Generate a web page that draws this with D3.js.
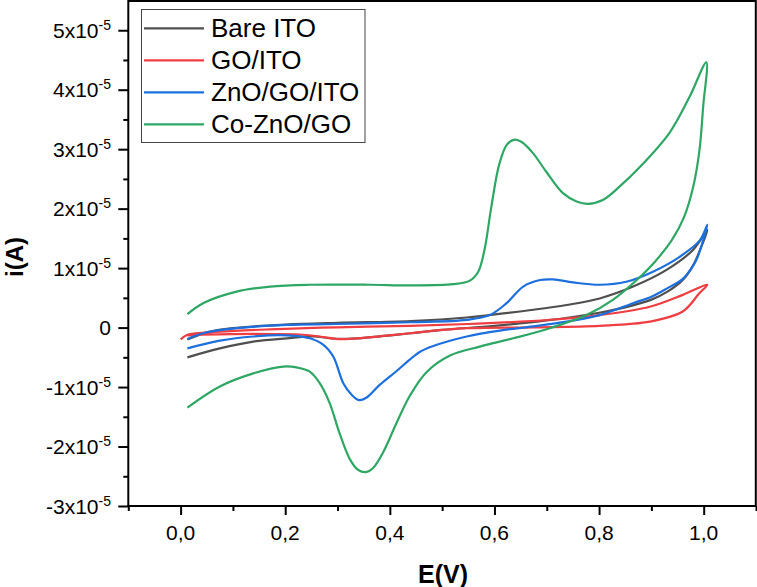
<!DOCTYPE html>
<html>
<head>
<meta charset="utf-8">
<script src="https://cdn.jsdelivr.net/npm/d3@7"></script>
<style>
  html, body { margin: 0; padding: 0; background: #fff; }
  svg { display: block; font-family: "Liberation Sans", Arial, sans-serif; }
</style>
</head>
<body>
<svg id="chart" width="757" height="587"></svg>
<script>
// ---------- data (E in V, i in units of 1e-5 A) ----------
const seriesNames = ["Bare ITO", "GO/ITO", "ZnO/GO/ITO", "Co-ZnO/GO"];

const bareITO = [
  [0.013,-0.20],[0.05,-0.08],[0.1,-0.01],[0.2,0.05],[0.3,0.08],[0.44,0.11],[0.547,0.17],
  [0.674,0.30],[0.738,0.38],[0.801,0.49],[0.865,0.69],[0.929,0.97],[0.98,1.31],[1.007,1.64],
  [0.995,1.35],[0.98,1.05],[0.96,0.80],[0.93,0.60],[0.90,0.47],[0.85,0.34],[0.80,0.25],
  [0.70,0.12],[0.60,0.03],[0.50,-0.04],[0.44,-0.095],[0.39,-0.14],[0.34,-0.18],[0.30,-0.19],
  [0.253,-0.15],[0.203,-0.18],[0.139,-0.235],[0.075,-0.35],[0.013,-0.50]
];

const goITO = [
  [0.0,-0.20],[0.013,-0.12],[0.075,-0.07],[0.171,-0.03],[0.30,0.005],[0.438,0.03],[0.55,0.06],
  [0.65,0.10],[0.72,0.14],[0.801,0.21],[0.897,0.35],[0.96,0.55],[1.007,0.72],
  [0.992,0.58],[0.96,0.27],[0.897,0.10],[0.801,0.03],[0.674,0.005],[0.547,-0.01],[0.50,-0.04],
  [0.438,-0.095],[0.387,-0.14],[0.336,-0.18],[0.304,-0.195],[0.266,-0.15],[0.234,-0.12],
  [0.139,-0.105],[0.043,-0.12],[0.013,-0.13]
];

const znoGoITO = [
  [0.013,-0.19],[0.043,-0.095],[0.107,-0.01],[0.203,0.045],[0.298,0.06],[0.438,0.09],[0.547,0.13],
  [0.591,0.21],[0.623,0.41],[0.655,0.69],[0.687,0.80],[0.712,0.81],[0.750,0.76],[0.801,0.72],
  [0.852,0.77],[0.903,0.94],[0.954,1.19],[0.993,1.47],[1.007,1.73],
  [0.999,1.47],[0.985,1.12],[0.96,0.82],[0.93,0.66],[0.90,0.52],[0.865,0.41],[0.801,0.21],
  [0.738,0.10],[0.674,0.02],[0.61,-0.05],[0.547,-0.15],[0.483,-0.31],[0.457,-0.41],[0.438,-0.54],
  [0.413,-0.73],[0.381,-0.96],[0.355,-1.18],[0.341,-1.22],[0.327,-1.13],[0.311,-0.935],[0.292,-0.49],
  [0.273,-0.29],[0.247,-0.18],[0.203,-0.13],[0.139,-0.15],[0.075,-0.22],[0.013,-0.35]
];

const coZnoGo = [
  [0.013,0.225],[0.043,0.41],[0.107,0.605],[0.171,0.69],[0.247,0.72],[0.362,0.72],[0.438,0.71],
  [0.521,0.73],[0.553,0.79],[0.569,0.94],[0.581,1.31],[0.594,2.03],[0.609,2.74],[0.624,3.08],
  [0.639,3.16],[0.652,3.12],[0.674,2.93],[0.699,2.62],[0.731,2.26],[0.757,2.12],[0.779,2.08],
  [0.808,2.15],[0.839,2.37],[0.878,2.70],[0.935,3.28],[0.973,3.88],[1.005,4.46],
  [0.999,3.72],[0.992,2.99],[0.98,2.37],[0.962,1.85],[0.939,1.47],[0.906,1.10],
  [0.872,0.80],[0.827,0.47],[0.776,0.21],[0.706,-0.01],[0.636,-0.18],[0.572,-0.32],[0.515,-0.47],
  [0.47,-0.75],[0.438,-1.15],[0.413,-1.60],[0.387,-2.10],[0.368,-2.36],[0.354,-2.43],[0.339,-2.39],
  [0.324,-2.22],[0.304,-1.78],[0.285,-1.27],[0.266,-0.935],[0.247,-0.74],[0.222,-0.67],
  [0.196,-0.655],[0.139,-0.77],[0.075,-0.99],[0.013,-1.345]
];

const xTickValues = [0.0, 0.2, 0.4, 0.6, 0.8, 1.0];
const xTickLabels = ["0,0", "0,2", "0,4", "0,6", "0,8", "1,0"];
const xMinorValues = [-0.1, 0.1, 0.3, 0.5, 0.7, 0.9, 1.1];
const yTickValues = [-3, -2, -1, 0, 1, 2, 3, 4, 5];
const yTickMantissa = ["-3", "-2", "-1", "0", "1", "2", "3", "4", "5"];
const yMinorValues = [-2.5, -1.5, -0.5, 0.5, 1.5, 2.5, 3.5, 4.5];

// ---------- styles ----------
const colors = ["#4f4f4f", "#f03d42", "#1d6fdd", "#2ea765"];
const allSeries = [bareITO, goITO, znoGoITO, coZnoGo];

const svg = d3.select("#chart");
const L = 128.3, R = 756, T = 0.5, B = 506;

const x = d3.scaleLinear().domain([-0.1, 1.1]).range([L, R]);
const y = d3.scaleLinear().domain([-3, 5.5]).range([B, T]);

// data lines (clipped to plot)
svg.append("clipPath").attr("id", "clip")
  .append("rect").attr("x", L).attr("y", T).attr("width", R - L).attr("height", B - T);

const line = d3.line()
  .x(d => x(d[0])).y(d => y(d[1]))
  .curve(d3.curveCatmullRom.alpha(0.5));

const g = svg.append("g").attr("clip-path", "url(#clip)");
allSeries.forEach((s, i) => {
  g.append("path").datum(s)
    .attr("d", line)
    .attr("fill", "none")
    .attr("stroke", colors[i])
    .attr("stroke-width", 2.2)
    .attr("stroke-linejoin", "round");
});

// frame (top & right)
svg.append("line").attr("x1", L).attr("x2", R).attr("y1", 1).attr("y2", 1)
  .attr("stroke", "#000").attr("stroke-width", 2);
svg.append("line").attr("x1", 755.8).attr("x2", 755.8).attr("y1", 0).attr("y2", B)
  .attr("stroke", "#000").attr("stroke-width", 2);

// x axis
const xAxis = d3.axisBottom(x).tickValues(xTickValues).tickSize(9).tickSizeOuter(0)
  .tickFormat(() => "");
const gx = svg.append("g").attr("transform", `translate(0,${B})`).call(xAxis);
gx.select(".domain").attr("stroke-width", 2).attr("d", `M${L - 1},0H${R}`);
gx.selectAll(".tick line").attr("stroke-width", 2);
const xMinor = d3.axisBottom(x).tickValues(xMinorValues).tickSize(5).tickFormat(() => "");
const gxm = svg.append("g").attr("transform", `translate(0,${B})`).call(xMinor);
gxm.select(".domain").remove();
gxm.selectAll(".tick line").attr("stroke-width", 2);

svg.append("g").selectAll("text").data(xTickValues).join("text")
  .attr("x", d => x(d)).attr("y", 540)
  .attr("text-anchor", "middle").attr("font-size", 21).attr("fill", "#000")
  .text((d, i) => xTickLabels[i]);

// y axis
const yAxis = d3.axisLeft(y).tickValues(yTickValues).tickSize(10).tickSizeOuter(0)
  .tickFormat(() => "");
const gy = svg.append("g").attr("transform", `translate(${L},0)`).call(yAxis);
gy.select(".domain").attr("stroke-width", 2).attr("d", `M0,${B + 1}V0`);
gy.selectAll(".tick line").attr("stroke-width", 2);
const yMinor = d3.axisLeft(y).tickValues(yMinorValues).tickSize(5).tickFormat(() => "");
const gym = svg.append("g").attr("transform", `translate(${L},0)`).call(yMinor);
gym.select(".domain").remove();
gym.selectAll(".tick line").attr("stroke-width", 2);

const ylab = svg.append("g").selectAll("text").data(yTickValues).join("text")
  .attr("x", 111).attr("y", d => y(d) + 7.5)
  .attr("text-anchor", "end").attr("font-size", 21).attr("fill", "#000");
ylab.each(function(d, i) {
  const t = d3.select(this);
  if (d === 0) { t.text("0"); return; }
  t.append("tspan").text(yTickMantissa[i] + "x10");
  t.append("tspan").attr("dy", -8).attr("font-size", 14).text("-5");
});

// axis titles
svg.append("text").attr("x", 443).attr("y", 583)
  .attr("text-anchor", "middle").attr("font-size", 25).attr("font-weight", "bold")
  .text("E(V)");
svg.append("text").attr("transform", "translate(23,257) rotate(-90)")
  .attr("text-anchor", "middle").attr("font-size", 24).attr("font-weight", "bold")
  .text("i(A)");

// legend
const lg = svg.append("g");
lg.append("rect").attr("x", 141.5).attr("y", 9.5).attr("width", 223.5).attr("height", 133)
  .attr("fill", "#fff").attr("stroke", "#444").attr("stroke-width", 1);
seriesNames.forEach((name, i) => {
  const cy = 28.3 + i * 32;
  lg.append("line").attr("x1", 144).attr("x2", 204).attr("y1", cy).attr("y2", cy)
    .attr("stroke", colors[i]).attr("stroke-width", 2.2);
  lg.append("text").attr("x", 211).attr("y", cy + 8.5)
    .attr("font-size", 26).attr("fill", "#000").text(name);
});
</script>
</body>
</html>
